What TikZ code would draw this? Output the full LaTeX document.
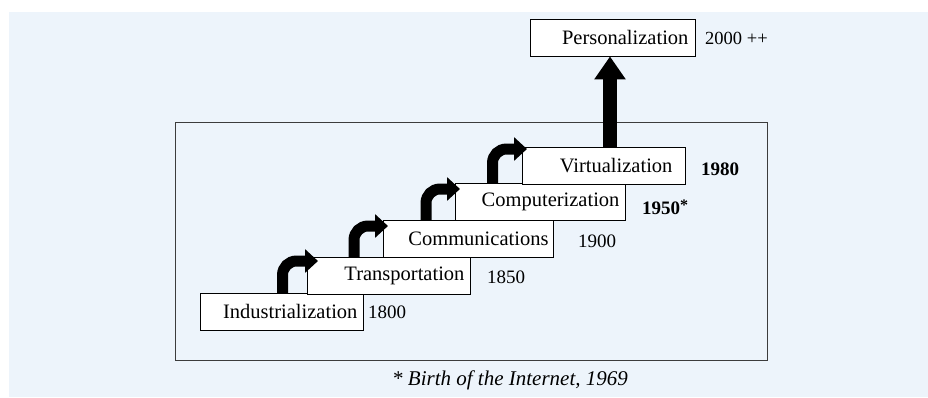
\documentclass[tikz,border=0pt]{standalone}
\usepackage{fontspec}
\setmainfont{Liberation Serif}
\usetikzlibrary{arrows.meta}
\definecolor{panelblue}{RGB}{237,244,251}
\definecolor{framegray}{RGB}{60,60,60}
\tikzset{
  stage/.style={draw=black, line width=0.9pt, fill=white, rectangle, anchor=north west,
    minimum height=36.5pt, inner xsep=6pt, inner ysep=0pt, align=right,
    font=\fontsize{20.5}{23}\selectfont},
  year/.style={anchor=west, inner sep=0pt, font=\fontsize{19}{21}\selectfont},
  turn/.style={line width=11pt, rounded corners=14pt,
    -{Triangle[width=23pt, length=13pt]}},
  rise/.style={line width=14pt, -{Triangle[width=30pt, length=23pt]}}
}
\begin{document}
\begin{tikzpicture}[x=1pt, y=-1pt]
  % page and panel
  \useasboundingbox (0,0) rectangle (928,397);
  \fill[white] (0,0) rectangle (928,397);
  \fill[panelblue] (9,12) rectangle (928,397);
  % outer frame
  \draw[framegray, line width=1pt] (175,122) rectangle (767,360);

  % stages
  \node[stage, minimum width=163pt, text width=151pt] (ind) at (200,293) {Industrialization};
  \node[stage, minimum width=163pt, text width=151pt] (tra) at (307,257) {Transportation};
  \node[stage, minimum width=170pt, text width=160pt, inner xsep=5pt] (com) at (383,220) {Communications};
  \node[stage, minimum width=170pt, text width=158pt] (cpt) at (455,183) {Computerization};
  \node[stage, minimum width=163pt, text width=137pt, inner xsep=13pt] (vir) at (522,147) {Virtualization};
  \node[stage, minimum width=165pt, text width=151pt, inner xsep=7pt] (per) at (530,19) {Personalization};

  % years
  \node[year] (y1800) at (368,312) {1800};
  \node[year] (y1850) at (487,277) {1850};
  \node[year] (y1900) at (578,241) {1900};
  \node[year, font=\fontsize{19}{21}\selectfont\bfseries] (y1950) at (642,207) {1950\raisebox{0.45ex}{\fontsize{16}{18}\selectfont*}};
  \node[year, font=\fontsize{19}{21}\selectfont\bfseries] (y1980) at (701,169) {1980};
  \node[year, font=\fontsize{18.5}{20}\selectfont] (y2000) at (705,38) {2000 ++};

  % step arrows
  \coordinate (s1) at (282.5,293); \coordinate (e1) at (318,261);
  \coordinate (s2) at (354,257);   \coordinate (e2) at (388,226);
  \coordinate (s3) at (426,220);   \coordinate (e3) at (460,189);
  \coordinate (s4) at (492.5,183); \coordinate (e4) at (527,149);
  \draw[turn] (s1) |- (e1);
  \draw[turn] (s2) |- (e2);
  \draw[turn] (s3) |- (e3);
  \draw[turn] (s4) |- (e4);

  % rise to personalization
  \draw[rise] (vir.north west -| 610,0) -- (per.south west -| 610,0);

  % note
  \node[inner sep=0pt, font=\fontsize{21}{24}\selectfont\itshape] (note) at (510,380)
    {* Birth of the Internet, 1969};
\end{tikzpicture}
\end{document}
